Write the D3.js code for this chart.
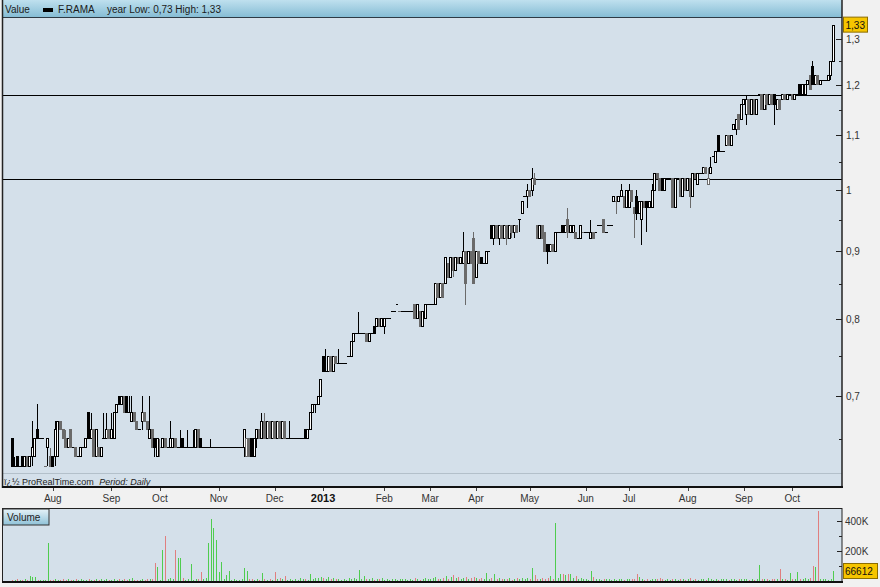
<!DOCTYPE html>
<html><head><meta charset="utf-8">
<script src="https://cdn.jsdelivr.net/npm/d3@7"></script>
<style>body{margin:0;background:#f1f1f1;} svg{display:block;font-family:"Liberation Sans",Arial,sans-serif;}</style>
</head><body><svg id="c" width="880" height="587"></svg>
<script>
// ---------- DATA ----------
const open = [
.65,.62,.63,.62,.63,.62,.63,.62,.63,.63,
.66,.65,.65,.62,.64,.63,.63,.63,.63,.67,
.66,.65,.64,.66,.64,.64,.63,.63,.64,.64,
.68,.65,.66,.63,.64,.63,.65,.65,.66,.65,
.65,.68,.70,.69,.70,.70,.68,.67,.68,.67,
.66,.67,.68,.67,.65,.66,.65,.63,.64,.64,
.65,.64,.64,.64,.65,.64,.64,.65,.64,.64,
.64,.64,.64,.66,.65,.64,.64,.64,.64,.64,
.64,.64,.64,.64,.64,.64,.64,.64,.64,.64,
.64,.64,.63,.65,.65,.63,.65,.66,.65,.67,
.65,.67,.65,.67,.65,.67,.65,.67,.65,.65,
.65,.65,.65,.65,.65,.66,.65,.66,.68,.69,
.69,.70,.75,.73,.73,.75,.73,.75,.74,.74,
.74,.74,.75,.75,.77,.78,.78,.78,.78,.78,
.77,.78,.79,.79,.80,.79,.79,.80,.80,.81,
.81,.82,.81,.81,.81,.81,.81,.81,.82,.80,
.81,.79,.80,.82,.82,.82,.82,.85,.83,.85,
.85,.88,.86,.89,.87,.89,.88,.88,.90,.88,
.90,.92,.86,.90,.89,.88,.88,.90,.94,.92,
.94,.92,.94,.92,.94,.92,.94,.93,.94,.95,
.96,.99,.99,1.00,1.00,1.02,.94,.92,.94,.93,
.91,.90,.91,.90,.93,.93,.94,.93,.95,.93,
.93,.93,.92,.92,.93,.93,.93,.92,.93,.93,
.94,.94,.95,.93,.94,.94,.98,.98,.98,.99,
.99,.97,.97,1.00,.97,.99,.96,.95,.98,.98,
.97,.97,1.00,1.03,1.02,1.02,1.00,1.02,1.02,1.02,
.97,1.02,1.02,.99,1.02,1.00,1.02,.99,1.03,1.01,
1.03,1.03,1.04,1.01,1.03,1.06,1.05,1.10,1.07,1.07,
1.08,1.10,1.08,1.11,1.11,1.14,1.13,1.16,1.14,1.17,
1.14,1.17,1.14,1.18,1.18,1.15,1.18,1.16,1.18,1.18,
1.15,1.17,1.17,1.18,1.17,1.18,1.18,1.17,1.18,1.20,
1.18,1.18,1.20,1.22,1.24,1.20,1.22,1.20,1.21,1.21,
1.21,1.22,1.25];
const high = [
.65,.63,.63,.62,.63,.63,.63,.63,.67,.65,
.69,.65,.65,.62,.65,.64,.63,.67,.67,.67,
.66,.66,.65,.66,.64,.64,.63,.64,.64,.65,
.68,.68,.66,.66,.64,.64,.68,.68,.66,.68,
.68,.69,.70,.70,.70,.70,.70,.70,.68,.67,
.66,.70,.68,.67,.70,.66,.65,.65,.65,.65,
.65,.64,.67,.65,.65,.64,.66,.65,.64,.66,
.64,.66,.66,.66,.65,.64,.64,.64,.65,.64,
.64,.64,.64,.64,.64,.64,.64,.64,.64,.64,
.64,.66,.65,.65,.65,.65,.66,.66,.68,.68,
.67,.67,.67,.67,.67,.67,.67,.67,.65,.67,
.65,.65,.65,.65,.65,.66,.66,.68,.69,.69,
.70,.72,.75,.76,.75,.75,.75,.75,.76,.74,
.74,.74,.75,.77,.78,.78,.81,.78,.78,.78,
.78,.78,.79,.80,.80,.80,.80,.80,.80,.81,
.81,.82,.81,.81,.81,.81,.81,.81,.82,.82,
.81,.81,.82,.82,.82,.82,.85,.85,.85,.85,
.89,.88,.89,.89,.89,.89,.89,.93,.90,.90,
.90,.93,.90,.90,.89,.88,.90,.90,.94,.94,
.94,.94,.94,.94,.94,.94,.94,.94,.94,.95,
.98,.99,1.01,1.00,1.04,1.03,.94,.94,.94,.93,
.91,.91,.91,.93,.93,.93,.94,.94,.97,.94,
.94,.93,.92,.94,.93,.93,.93,.95,.93,.93,
.94,.94,.95,.93,.94,.94,.99,.99,.99,1.01,
.99,1.00,1.01,1.00,.97,1.00,.98,.98,.98,.98,
.98,1.01,1.03,1.03,1.02,1.02,1.02,1.02,1.02,1.02,
1.02,1.02,1.02,1.02,1.02,1.02,1.02,1.03,1.03,1.03,
1.03,1.04,1.04,1.04,1.06,1.06,1.07,1.10,1.07,1.07,
1.10,1.10,1.10,1.12,1.13,1.14,1.16,1.17,1.18,1.17,
1.17,1.17,1.17,1.18,1.18,1.18,1.18,1.18,1.18,1.18,
1.17,1.17,1.18,1.18,1.18,1.18,1.18,1.18,1.18,1.20,
1.20,1.20,1.21,1.22,1.25,1.22,1.22,1.21,1.21,1.21,
1.22,1.25,1.33];
const low = [
.62,.62,.62,.62,.62,.62,.62,.62,.62,.63,
.65,.65,.65,.62,.62,.62,.62,.62,.63,.66,
.65,.64,.64,.64,.64,.63,.63,.63,.64,.64,
.65,.65,.63,.63,.63,.63,.65,.65,.65,.65,
.65,.68,.69,.69,.68,.68,.68,.67,.67,.66,
.66,.66,.67,.66,.65,.64,.63,.63,.63,.64,
.64,.64,.64,.64,.64,.64,.64,.64,.64,.64,
.64,.64,.64,.64,.64,.64,.64,.64,.64,.64,
.64,.64,.64,.64,.64,.64,.64,.64,.64,.64,
.64,.63,.63,.63,.63,.63,.64,.65,.65,.65,
.65,.65,.65,.65,.65,.65,.65,.65,.65,.65,
.65,.65,.65,.65,.65,.65,.65,.66,.68,.68,
.69,.70,.73,.73,.73,.73,.73,.74,.74,.74,
.74,.74,.75,.75,.77,.78,.78,.78,.78,.77,
.77,.78,.78,.79,.79,.79,.78,.80,.80,.81,
.81,.82,.81,.81,.81,.81,.81,.81,.80,.80,
.79,.79,.80,.82,.82,.82,.82,.83,.83,.83,
.85,.86,.86,.86,.87,.88,.88,.88,.82,.88,
.88,.85,.86,.88,.88,.88,.88,.90,.92,.91,
.92,.91,.92,.92,.91,.92,.92,.92,.93,.93,
.96,.99,.97,.99,.99,1.01,.92,.92,.92,.90,
.88,.90,.90,.90,.93,.93,.93,.93,.92,.93,
.93,.92,.92,.92,.93,.93,.93,.92,.92,.93,
.94,.94,.93,.93,.94,.94,.98,.96,.98,.99,
.97,.97,.97,.98,.92,.95,.96,.91,.97,.93,
.97,.97,1.00,1.02,1.00,1.00,1.00,1.02,1.02,.97,
.97,1.02,.99,.99,1.00,1.00,.97,.99,1.02,1.01,
1.03,1.03,1.03,1.01,1.03,1.06,1.05,1.07,1.07,1.07,
1.08,1.08,1.08,1.11,1.10,1.11,1.13,1.16,1.12,1.14,
1.14,1.14,1.14,1.18,1.15,1.15,1.15,1.16,1.16,1.12,
1.15,1.15,1.17,1.17,1.17,1.18,1.17,1.17,1.18,1.18,
1.18,1.18,1.20,1.19,1.20,1.20,1.20,1.20,1.21,1.21,
1.21,1.21,1.25];
const close = [
.62,.62,.62,.62,.62,.63,.62,.63,.64,.65,
.65,.65,.65,.62,.65,.62,.62,.66,.67,.66,
.65,.64,.65,.64,.64,.63,.63,.64,.64,.65,
.65,.66,.63,.66,.63,.64,.65,.66,.65,.66,
.68,.69,.69,.70,.68,.68,.68,.68,.67,.66,
.66,.68,.67,.66,.66,.64,.64,.65,.64,.65,
.64,.64,.65,.65,.64,.64,.64,.64,.64,.64,
.64,.64,.66,.64,.64,.64,.64,.64,.64,.64,
.64,.64,.64,.64,.64,.64,.64,.64,.64,.64,
.64,.66,.65,.63,.63,.65,.66,.65,.67,.65,
.67,.65,.67,.65,.67,.65,.67,.65,.65,.65,
.65,.65,.65,.65,.65,.65,.66,.68,.69,.69,
.70,.72,.73,.73,.75,.73,.75,.74,.74,.74,
.74,.74,.75,.77,.78,.78,.78,.78,.78,.77,
.78,.78,.78,.80,.79,.80,.80,.80,.80,.81,
.81,.82,.81,.81,.81,.81,.81,.81,.80,.82,
.79,.81,.82,.82,.82,.82,.85,.83,.85,.83,
.89,.86,.89,.87,.89,.88,.89,.90,.85,.90,
.88,.85,.90,.88,.88,.88,.90,.90,.92,.94,
.92,.94,.92,.94,.92,.94,.93,.94,.93,.95,
.98,.99,1.00,.99,1.02,1.01,.92,.94,.92,.90,
.90,.91,.90,.93,.93,.93,.93,.94,.93,.94,
.94,.92,.92,.94,.93,.93,.93,.93,.92,.93,
.94,.94,.93,.93,.94,.94,.99,.98,.99,1.00,
.97,1.00,1.00,.98,.96,.96,.98,.98,.97,.97,
.98,1.00,1.03,1.02,1.00,1.00,1.02,1.02,1.02,.97,
1.02,1.02,.99,1.02,1.00,1.02,.99,1.03,1.02,1.03,
1.03,1.04,1.03,1.02,1.04,1.06,1.07,1.07,1.07,1.07,
1.10,1.08,1.10,1.12,1.13,1.11,1.16,1.17,1.17,1.14,
1.17,1.14,1.17,1.18,1.15,1.18,1.16,1.18,1.16,1.16,
1.17,1.15,1.18,1.17,1.18,1.18,1.17,1.18,1.18,1.18,
1.20,1.20,1.21,1.19,1.20,1.22,1.20,1.21,1.21,1.21,
1.22,1.25,1.33];
const volume = [
8000,5000,12000,6000,9000,15000,7000,35000,28000,25000,
10000,6000,4000,8000,251000,9000,7000,12000,10000,6000,
14000,8000,11000,9000,6000,13000,7000,15000,9000,8000,
12000,10000,7000,16000,8000,12000,9000,14000,6000,10000,
13000,8000,11000,7000,15000,9000,12000,18000,8000,10000,
7000,14000,9000,11000,16000,12000,118000,95000,10000,207000,
300000,12000,20000,14000,207000,155000,155000,18000,10000,12000,
113000,9000,14000,11000,60000,16000,20000,251000,413000,353000,
273000,60000,129000,12000,40000,67000,9000,11000,8000,10000,
14000,87000,70000,12000,15000,9000,11000,8000,53000,13000,
10000,16000,9000,60000,12000,18000,11000,35000,8000,13000,
9000,14000,7000,20000,11000,16000,9000,47000,15000,22000,
18000,25000,20000,16000,30000,14000,18000,12000,15000,10000,
13000,9000,17000,12000,20000,14000,73000,11000,35000,16000,
12000,18000,9000,14000,11000,20000,8000,13000,10000,15000,
12000,9000,16000,11000,14000,8000,12000,10000,17000,13000,
9000,15000,22000,11000,14000,18000,30000,12000,16000,20000,
35000,15000,24000,40000,18000,26000,14000,22000,28000,16000,
20000,25000,18000,14000,20000,12000,53000,16000,18000,47000,
14000,20000,11000,16000,13000,18000,10000,15000,22000,14000,
18000,12000,20000,15000,87000,40000,16000,12000,18000,14000,
22000,35000,16000,387000,20000,47000,47000,38000,47000,45000,
18000,35000,14000,20000,12000,16000,10000,67000,30000,14000,
12000,9000,16000,11000,14000,8000,13000,10000,12000,15000,
9000,13000,11000,16000,12000,47000,25000,14000,10000,12000,
9000,14000,11000,16000,20000,12000,8000,13000,10000,15000,
11000,9000,14000,12000,8000,13000,22000,10000,12000,9000,
14000,11000,8000,18000,12000,10000,15000,9000,13000,11000,
16000,10000,12000,14000,9000,13000,11000,16000,12000,10000,
14000,9000,12000,104000,15000,11000,13000,10000,16000,12000,
14000,80000,12000,16000,10000,53000,13000,11000,60000,14000,
12000,20000,15000,18000,100000,93000,467000,16000,12000,14000,
10000,12000,66612];

const monthLabels = ["Aug","Sep","Oct","Nov","Dec","2013","Feb","Mar","Apr","May","Jun","Jul","Aug","Sep","Oct"];
const monthIdx    = [16,39,58,81,103,122,146,164,182,203,225,242,265,287,306];
const priceTicks  = [0.7,0.8,0.9,1,1.1,1.2,1.3];
const priceMinor  = [0.65,0.75,0.85,0.95,1.05,1.15,1.25];
const levelLines  = [1.18,1.02];
const volTicks    = [200000,400000];
const volMinor    = [100000,300000];
const lastPrice   = 1.33;
const lastVolume  = 66612;

// ---------- CHART ----------
const svg = d3.select("#c");
const L = 2, R = 842;
const n = close.length;
const x = d3.scaleLinear().domain([0, n - 1]).range([12, 833.1]);
const y = d3.scaleLog().domain([0.6126, 1.3477]).range([473, 18]);
const yv = d3.scaleLinear().domain([0, 480000]).range([581, 509]);
const fmt = v => String(+v.toFixed(2)).replace(".", ",");

svg.append("rect").attr("width", 880).attr("height", 587).attr("fill", "#f1f1f1");
const defs = svg.append("defs");
const hg = defs.append("linearGradient").attr("id","hdr").attr("x1",0).attr("x2",0).attr("y1",0).attr("y2",1);
hg.append("stop").attr("offset","0%").attr("stop-color","#bfe0ee");
hg.append("stop").attr("offset","100%").attr("stop-color","#86bdd5");
const vg = defs.append("linearGradient").attr("id","vhdr").attr("x1",0).attr("x2",0).attr("y1",0).attr("y2",1);
vg.append("stop").attr("offset","0%").attr("stop-color","#e6f2f8");
vg.append("stop").attr("offset","100%").attr("stop-color","#8fc2d8");
defs.append("clipPath").attr("id","clipP").append("rect").attr("x",L).attr("y",18).attr("width",R-L).attr("height",455);
defs.append("clipPath").attr("id","clipV").append("rect").attr("x",L).attr("y",508).attr("width",R-L).attr("height",74);

// main panel
svg.append("rect").attr("x",L).attr("y",0).attr("width",R-L).attr("height",487).attr("fill","#d4e0ea");
svg.append("rect").attr("x",L).attr("y",0).attr("width",R-L).attr("height",17).attr("fill","url(#hdr)");
svg.append("line").attr("x1",L).attr("x2",R).attr("y1",17.5).attr("y2",17.5).attr("stroke","#2e3a44").attr("stroke-width",1);
const hdr = svg.append("g").attr("font-size",10).attr("fill","#1a1a1a");
hdr.append("text").attr("x",5).attr("y",13).text("Value");
hdr.append("rect").attr("x",43).attr("y",8).attr("width",10).attr("height",4).attr("fill","#000");
hdr.append("text").attr("x",58).attr("y",13).text("F.RAMA");
hdr.append("text").attr("x",107).attr("y",13).text("year Low: 0,73 High: 1,33");

// bottom strip
svg.append("line").attr("x1",L).attr("x2",R).attr("y1",473.5).attr("y2",473.5).attr("stroke","#b3c0ca");
const foot = svg.append("text").attr("x",4).attr("y",485).attr("font-size",9).attr("fill","#222");
foot.append("tspan").text("ï¿½ ProRealTime.com  ");
foot.append("tspan").attr("font-style","italic").attr("dx",3).text("Period: Daily");

// plot content
const plot = svg.append("g").attr("clip-path","url(#clipP)");
plot.selectAll("line.lvl").data(levelLines).join("line").attr("class","lvl")
  .attr("x1",L).attr("x2",R).attr("y1",d=>Math.round(y(d))+0.5).attr("y2",d=>Math.round(y(d))+0.5)
  .attr("stroke","#000").attr("stroke-width",1);

const idx = d3.range(n);
const colorOf = i => (i > 0 && close[i] < close[i-1]) ? "#6a6a6a" : "#000";
const isFlat = i => open[i] === close[i] && high[i] === low[i];
const cg = plot.append("g").attr("shape-rendering","crispEdges");
cg.selectAll("line.wick").data(idx.filter(i => high[i] !== low[i])).join("line").attr("class","wick")
  .attr("x1",i=>x(i)).attr("x2",i=>x(i)).attr("y1",i=>y(high[i])).attr("y2",i=>y(low[i]))
  .attr("stroke",colorOf).attr("stroke-width",1);
cg.selectAll("line.flat").data(idx.filter(i => open[i] === close[i])).join("line").attr("class","flat")
  .attr("x1",i=>x(i)-1.4).attr("x2",i=>x(i)+1.4).attr("y1",i=>y(close[i])).attr("y2",i=>y(close[i]))
  .attr("stroke",colorOf).attr("stroke-width",1);
cg.selectAll("rect.body").data(idx.filter(i => open[i] !== close[i])).join("rect").attr("class","body")
  .attr("x",i=>x(i)-1).attr("width",2)
  .attr("y",i=>y(Math.max(open[i],close[i])))
  .attr("height",i=>Math.abs(y(open[i])-y(close[i])))
  .attr("fill",i=> close[i] > open[i] ? "#fff" : colorOf(i))
  .attr("stroke",colorOf).attr("stroke-width",1);

// frame
svg.append("line").attr("x1",L+0.5).attr("x2",L+0.5).attr("y1",0).attr("y2",488).attr("stroke","#222").attr("stroke-width",1.5);
svg.append("line").attr("x1",R).attr("x2",R).attr("y1",0).attr("y2",488).attr("stroke","#222").attr("stroke-width",1.5);
svg.append("line").attr("x1",L).attr("x2",R+1).attr("y1",487).attr("y2",487).attr("stroke","#111").attr("stroke-width",2);

// right price axis
const ax = svg.append("g").attr("fill","#333").attr("font-size",10);
ax.selectAll("line.maj").data(priceTicks).join("line").attr("class","maj")
  .attr("x1",836).attr("x2",R).attr("y1",d=>Math.round(y(d))+0.5).attr("y2",d=>Math.round(y(d))+0.5).attr("stroke","#222");
ax.selectAll("line.min").data(priceMinor).join("line").attr("class","min")
  .attr("x1",839).attr("x2",R).attr("y1",d=>Math.round(y(d))+0.5).attr("y2",d=>Math.round(y(d))+0.5).attr("stroke","#222");
ax.selectAll("text").data(priceTicks).join("text").attr("x",846).attr("y",d=>y(d)+4).text(fmt);
svg.append("rect").attr("x",843.5).attr("y",y(lastPrice)-8.5).attr("width",24).attr("height",15)
  .attr("fill","#f6c500").attr("stroke","#8c6d00");
svg.append("text").attr("x",845.5).attr("y",y(lastPrice)+3.5).attr("font-size",10).attr("fill","#111").text(fmt(lastPrice));

// month axis
const mx = svg.append("g").attr("font-size",10).attr("fill","#333");
mx.selectAll("line").data(monthIdx).join("line")
  .attr("x1",i=>Math.round(x(i))+0.5).attr("x2",i=>Math.round(x(i))+0.5).attr("y1",488).attr("y2",491).attr("stroke","#444");
mx.selectAll("text").data(monthLabels).join("text")
  .attr("x",(d,k)=>x(monthIdx[k])).attr("y",502).attr("text-anchor","middle")
  .attr("font-weight",d=>/^\d{4}$/.test(d)?"bold":"normal").attr("fill",d=>/^\d{4}$/.test(d)?"#111":"#333")
  .attr("font-size",d=>/^\d{4}$/.test(d)?11:10).text(d=>d);

// volume panel
svg.append("rect").attr("x",L).attr("y",508).attr("width",R-L).attr("height",74).attr("fill","#d4e0ea");
const vp = svg.append("g").attr("clip-path","url(#clipV)").attr("shape-rendering","crispEdges");
vp.selectAll("rect").data(idx).join("rect")
  .attr("x",i=>Math.round(x(i))).attr("width",1)
  .attr("y",i=>yv(volume[i])).attr("height",i=>yv(0)-yv(volume[i]))
  .attr("fill",i=> close[i] >= open[i] ? "#4fcc4f" : "#e07f7f");
svg.append("rect").attr("x",L+0.5).attr("y",508.5).attr("width",R-L-0.5).attr("height",73).attr("fill","none").attr("stroke","#222");
svg.append("line").attr("x1",L).attr("x2",R+1).attr("y1",582).attr("y2",582).attr("stroke","#111").attr("stroke-width",2);
svg.append("rect").attr("x",L+1).attr("y",509).attr("width",46).attr("height",16).attr("fill","url(#vhdr)").attr("stroke","#333");
svg.append("text").attr("x",7).attr("y",521).attr("font-size",10).attr("fill","#222").text("Volume");
const vax = svg.append("g").attr("font-size",10).attr("fill","#333");
vax.selectAll("line.maj").data(volTicks).join("line").attr("class","maj")
  .attr("x1",837).attr("x2",R).attr("y1",d=>Math.round(yv(d))+0.5).attr("y2",d=>Math.round(yv(d))+0.5).attr("stroke","#222");
vax.selectAll("line.min").data(volMinor).join("line").attr("class","min")
  .attr("x1",839).attr("x2",R).attr("y1",d=>Math.round(yv(d))+0.5).attr("y2",d=>Math.round(yv(d))+0.5).attr("stroke","#222");
vax.selectAll("text").data(volTicks).join("text").attr("x",845).attr("y",d=>yv(d)+4).text(d=>(d/1000)+"K");
svg.append("rect").attr("x",843.5).attr("y",yv(lastVolume)-7.5).attr("width",34).attr("height",15)
  .attr("fill","#f6c500").attr("stroke","#8c6d00");
svg.append("text").attr("x",845).attr("y",yv(lastVolume)+4).attr("font-size",10).attr("fill","#111").text(lastVolume);
</script>
</body></html>
